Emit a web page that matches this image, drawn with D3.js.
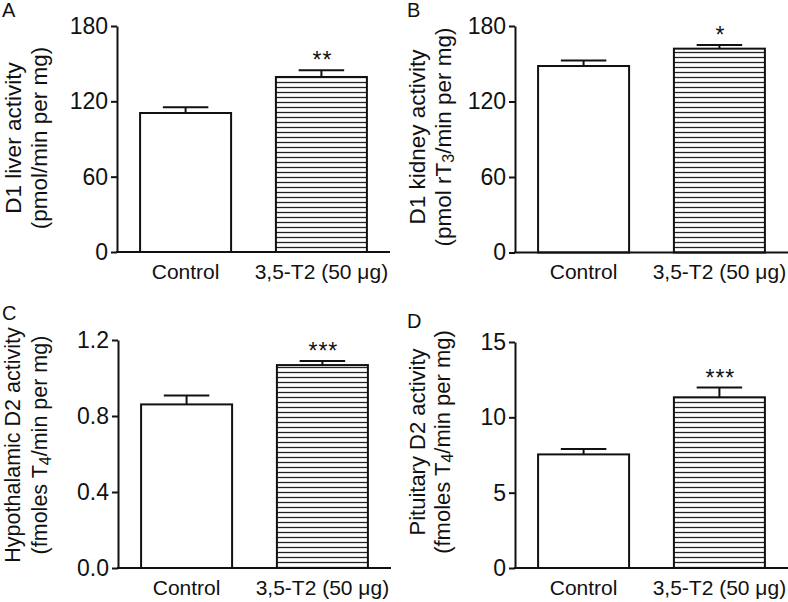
<!DOCTYPE html>
<html>
<head>
<meta charset="utf-8">
<script src="https://cdn.jsdelivr.net/npm/d3@7"></script>
<style>
  html, body { margin: 0; padding: 0; background: #fff; }
  text { font-family: "Liberation Sans", Arial, sans-serif; fill: #111; }
</style>
</head>
<body>
<svg id="chart" width="788" height="602"></svg>
<script>
// ---- data ----
const categories = ["Control", "3,5-T2 (50 \u03bcg)"];
const panelLetters = ["A", "B", "C", "D"];

const liverMeans = [110.7, 139.4];
const liverSEM = [4.5, 5.3];
const liverTicks = [0, 60, 120, 180];

const kidneyMeans = [148.2, 162.0];
const kidneySEM = [4.3, 2.9];
const kidneyTicks = [0, 60, 120, 180];

const hypoMeans = [0.861, 1.068];
const hypoSEM = [0.047, 0.021];
const hypoTicks = [0, 0.4, 0.8, 1.2];

const pitMeans = [7.54, 11.33];
const pitSEM = [0.35, 0.65];
const pitTicks = [0, 5, 10, 15];

const significance = [["", "**"], ["", "*"], ["", "***"], ["", "***"]];

// ---- layout ----
const svg = d3.select("#chart");
svg.append("rect").attr("width", 788).attr("height", 602).attr("fill", "#fff");

const defs = svg.append("defs");
const pat = defs.append("pattern")
  .attr("id", "hatch").attr("patternUnits", "userSpaceOnUse")
  .attr("width", 10).attr("height", 5);
pat.append("rect").attr("width", 10).attr("height", 5).attr("fill", "#fff");
pat.append("line").attr("x1", 0).attr("x2", 10).attr("y1", 2.5).attr("y2", 2.5)
  .attr("stroke", "#222").attr("stroke-width", 1.3);

const panels = [
  { letter: panelLetters[0], means: liverMeans, sem: liverSEM, ticks: liverTicks, fmt: d3.format("d"),
    x0: 117, top: 26, bottom: 252, lx: [2, 17], fs: 22.5,
    label1: [{t: "D1 liver activity"}], label2: [{t: "(pmol/min per mg)"}], l1x: 13, l2x: 39, lcy: 138, sig: significance[0] },
  { letter: panelLetters[1], means: kidneyMeans, sem: kidneySEM, ticks: kidneyTicks, fmt: d3.format("d"),
    x0: 515, top: 26, bottom: 252.5, lx: [407, 17], fs: 22.5,
    label1: [{t: "D1 kidney activity"}], label2: [{t: "(pmol rT"}, {t: "3", sub: true}, {t: "/min per mg)"}], l1x: 417, l2x: 443, lcy: 137, sig: significance[1] },
  { letter: panelLetters[2], means: hypoMeans, sem: hypoSEM, ticks: hypoTicks, fmt: d3.format(".1f"),
    x0: 118, top: 340, bottom: 568, lx: [2, 320], fs: 21.5,
    label1: [{t: "Hypothalamic D2 activity"}], label2: [{t: "(fmoles T"}, {t: "4", sub: true}, {t: "/min per mg)"}], l1x: 13, l2x: 40, lcy: 445, sig: significance[2] },
  { letter: panelLetters[3], means: pitMeans, sem: pitSEM, ticks: pitTicks, fmt: d3.format("d"),
    x0: 515, top: 342, bottom: 568, lx: [407, 328], fs: 22,
    label1: [{t: "Pituitary D2 activity"}], label2: [{t: "(fmoles T"}, {t: "4", sub: true}, {t: "/min per mg)"}], l1x: 417, l2x: 442, lcy: 442, sig: significance[3] }
];

panels.forEach(p => {
  const g = svg.append("g");
  const yMax = p.ticks[p.ticks.length - 1];
  const y = d3.scaleLinear().domain([0, yMax]).range([p.bottom, p.top]);
  const x = d3.scaleBand().domain(categories).range([p.x0, p.x0 + 273])
    .paddingInner(0.33).paddingOuter(0.17);

  // panel letter
  g.append("text").attr("x", p.lx[0]).attr("y", p.lx[1])
    .attr("font-size", 20).text(p.letter);

  // y axis
  const yAxis = d3.axisLeft(y).tickValues(p.ticks).tickFormat(p.fmt)
    .tickSize(6).tickPadding(3).tickSizeOuter(0);
  const ya = g.append("g").attr("transform", `translate(${p.x0},0)`).call(yAxis);
  ya.select(".domain").attr("stroke", "#111").attr("stroke-width", 2);
  ya.selectAll(".tick line").attr("stroke", "#111").attr("stroke-width", 2);
  ya.selectAll(".tick text").attr("font-size", 23)
    .attr("font-family", "'Liberation Sans', Arial, sans-serif").attr("fill", "#111");

  // bars
  const barData = categories.map((c, i) => ({ c, i, v: p.means[i], e: p.sem[i], s: p.sig[i] }));
  g.selectAll("rect.bar").data(barData).enter().append("rect")
    .attr("class", "bar")
    .attr("x", d => x(d.c)).attr("width", x.bandwidth())
    .attr("y", d => y(d.v)).attr("height", d => y(0) - y(d.v))
    .attr("fill", d => d.i === 0 ? "#fff" : "url(#hatch)")
    .attr("stroke", "#111").attr("stroke-width", 2);

  // error bars
  const cap = x.bandwidth() / 2;
  barData.forEach(d => {
    const cx = x(d.c) + x.bandwidth() / 2;
    g.append("line").attr("x1", cx).attr("x2", cx)
      .attr("y1", y(d.v)).attr("y2", y(d.v + d.e))
      .attr("stroke", "#111").attr("stroke-width", 2);
    g.append("line").attr("x1", cx - cap / 2).attr("x2", cx + cap / 2)
      .attr("y1", y(d.v + d.e)).attr("y2", y(d.v + d.e))
      .attr("stroke", "#111").attr("stroke-width", 2);
    if (d.s) {
      g.append("text").attr("x", cx + 1).attr("y", y(d.v + d.e) - 2)
        .attr("text-anchor", "middle").attr("font-size", 23)
        .attr("letter-spacing", 1).text(d.s);
    }
  });

  // x axis
  const xAxis = d3.axisBottom(x).tickSize(0).tickPadding(9).tickSizeOuter(0);
  const xa = g.append("g").attr("transform", `translate(0,${p.bottom})`).call(xAxis);
  xa.select(".domain").attr("stroke", "#111").attr("stroke-width", 2)
    .attr("d", `M${p.x0 - 1},0H${p.x0 + 273}`);
  xa.selectAll(".tick text").attr("font-size", 21)
    .attr("font-family", "'Liberation Sans', Arial, sans-serif").attr("fill", "#111")
    .attr("dy", "0.85em");

  // y labels
  function addLabel(parts, lx) {
    const t = g.append("text")
      .attr("transform", `translate(${lx},${p.lcy}) rotate(-90)`)
      .attr("text-anchor", "middle").attr("dominant-baseline", "central")
      .attr("font-size", p.fs);
    let shifted = false;
    parts.forEach(part => {
      const ts = t.append("tspan").text(part.t);
      if (part.sub) { ts.attr("dy", 5).attr("font-size", 16); shifted = true; }
      else if (shifted) { ts.attr("dy", -5); shifted = false; }
    });
  }
  addLabel(p.label1, p.l1x);
  addLabel(p.label2, p.l2x);
});
</script>
</body>
</html>
